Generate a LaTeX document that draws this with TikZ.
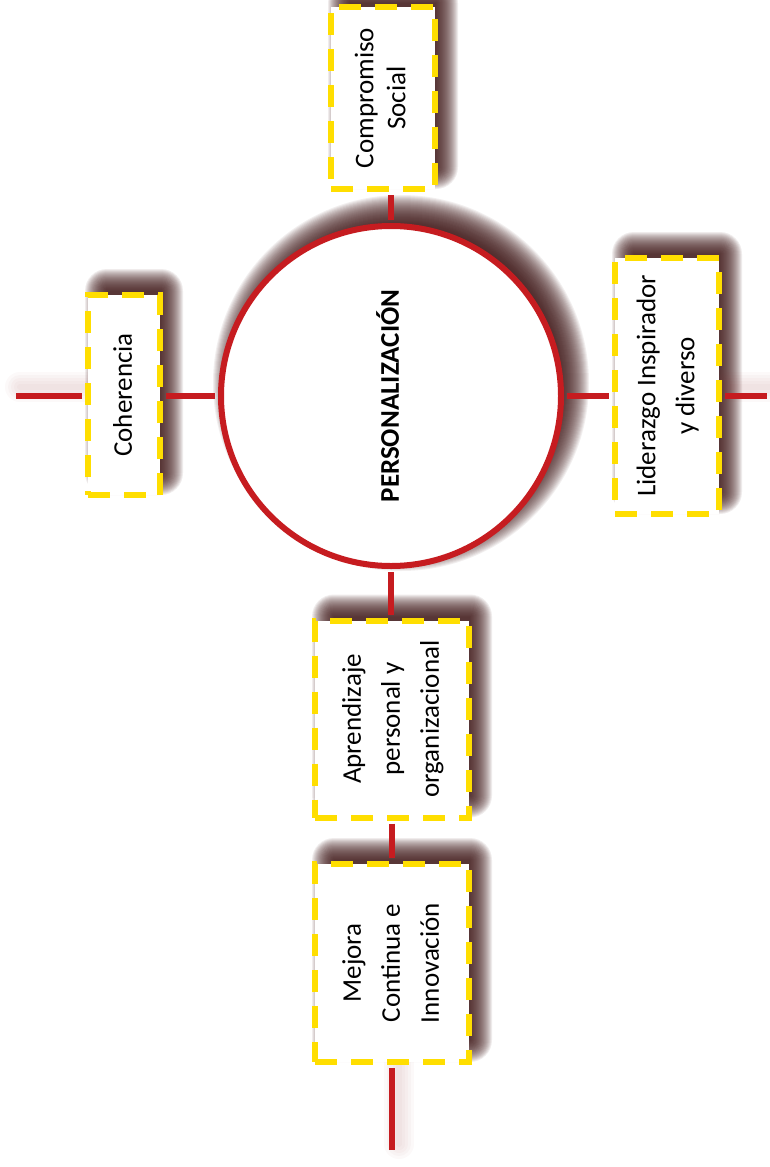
\documentclass[tikz,border=0pt]{standalone}
\usepackage{fontspec}
\usepackage{graphicx}
\setmainfont{Carlito}
\usetikzlibrary{backgrounds}

\definecolor{ringred}{RGB}{198,28,32}
\definecolor{dashyellow}{RGB}{255,222,0}
\definecolor{shadebrown}{RGB}{58,18,18}
\definecolor{hazepink}{RGB}{150,60,60}

% upright label set sideways, reading bottom to top
\newcommand{\uptext}[2][39pt]{\rotatebox{90}{\fontsize{27}{#1}\selectfont\begin{tabular}{@{}c@{}}#2\end{tabular}}}

% soft shadow behind a rectangular node, cast up and to the right
\newcommand{\boxshade}[1]{%
  \foreach \e in {-12,...,10} {%
    \pgfmathsetmacro\rc{max(\e+12,0.5)}%
    \fill[shadebrown, opacity=0.08, rounded corners=\rc pt]
      ([xshift={(10-\e)*1pt}, yshift={(13+\e)*1pt}]#1.north west) rectangle
      ([xshift={(10+\e)*1pt}, yshift={(13-\e)*1pt}]#1.south east);
  }}
% soft shadow behind the round node
\newcommand{\ringshade}[2]{%
  \foreach \e in {-12,...,18} {%
    \fill[shadebrown, opacity=0.065]
      ([xshift=10pt, yshift=13pt]#1.center) circle[radius={(#2+\e)*1pt}];
  }}

\begin{document}
\begin{tikzpicture}[x=1pt,y=-1pt,
  boxnode/.style={draw=dashyellow, line width=6pt, dash pattern=on 22pt off 14pt,
      fill=white, inner sep=0pt},
  ring/.style={circle, draw=ringred, line width=6pt, fill=white,
      minimum size=340pt, inner sep=0pt},
  link/.style={draw=ringred, line width=6pt, shorten <=3pt, shorten >=3pt},
  linkhaze/.style={draw=hazepink, opacity=0.03, line width=#1, line cap=round,
      transform canvas={shift={(7pt,9pt)}}}]

\useasboundingbox (0,0) rectangle (770,1167);

% central circle
\node[ring] (circ) at (391,396) {\uptext{\textbf{PERSONALIZACIÓN}}};

% surrounding boxes
\node[boxnode, minimum width=104pt, minimum height=182pt] (comp) at (383,98)
  {\uptext[32pt]{Compromiso\\Social}};
\node[boxnode, minimum width=72pt, minimum height=200pt] (coh) at (124,395)
  {\uptext{Coherencia}};
\node[boxnode, minimum width=104pt, minimum height=256pt] (lid) at (667,386)
  {\uptext{Liderazgo Inspirador\\y diverso}};
\node[boxnode, minimum width=154pt, minimum height=197pt] (apr) at (392,719)
  {\uptext{Aprendizaje\\personal y\\organizacional}};
\node[boxnode, minimum width=154pt, minimum height=198pt] (mej) at (392,963)
  {\uptext{Mejora\\Continua e\\Innovación}};

% loose ends of the axes
\coordinate (lft) at (13,396);
\coordinate (rgt) at (770,396);
\coordinate (bot) at (392,1153);

% shadows go underneath everything
\begin{scope}[on background layer]
  \ringshade{circ}{170}
  \boxshade{comp}
  \boxshade{coh}
  \boxshade{lid}
  \boxshade{apr}
  \boxshade{mej}
  \foreach \w in {6pt,12pt,18pt,24pt,30pt} {
    \draw[linkhaze=\w] (lft) -- (circ.west -| coh.west);
    \draw[linkhaze=\w] (mej.south) -- (bot);
    \draw[linkhaze=\w] (circ.east -| lid.east) -- (rgt);
  }
\end{scope}

% connectors
\draw[link] (circ.north) -- (circ.north |- comp.south);
\draw[link] (circ.west) -- (circ.west -| coh.east);
\draw[link] (circ.west -| coh.west) -- (lft);
\draw[link] (circ.east) -- (circ.east -| lid.west);
\draw[link] (circ.east -| lid.east) -- (rgt);
\draw[link] (circ.south) -- (circ.south |- apr.north);
\draw[link] (apr.south) -- (mej.north);
\draw[link] (mej.south) -- (bot);
\end{tikzpicture}
\end{document}
